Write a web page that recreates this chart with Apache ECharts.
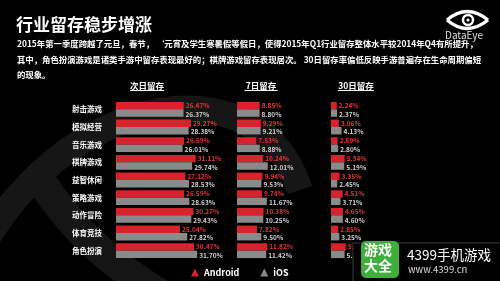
<!DOCTYPE html>
<html><head><meta charset="utf-8">
<script src="https://cdn.jsdelivr.net/npm/echarts@6/dist/echarts.min.js"></script>
<style>html,body{margin:0;padding:0;background:#000;}#c{width:500px;height:281px;}</style>
</head><body><div id="c"></div>
<script>
const categories = ['射击游戏','模拟经营','音乐游戏','棋牌游戏','益智休闲','策略游戏','动作冒险','体育竞技','角色扮演'];
const day1Android = [26.47, 29.27, 26.59, 31.11, 27.12, 26.59, 30.27, 25.04, 30.47];
const day1IOS     = [26.37, 28.38, 26.01, 29.74, 28.53, 28.63, 29.43, 27.82, 31.70];
const day7Android = [8.85, 9.29, 7.53, 10.24, 9.94, 9.74, 10.38, 7.82, 11.82];
const day7IOS     = [8.80, 9.21, 8.88, 12.01, 9.53, 11.67, 10.25, 9.50, 11.42];
const day30Android = [2.24, 3.06, 2.59, 5.34, 3.35, 4.51, 4.65, 2.85, 5.75];
const day30IOS     = [2.37, 4.13, 2.80, 5.19, 2.45, 3.71, 4.60, 3.25, 5.31];
const panelTitles = ['次日留存','7日留存','30日留存'];
const seriesNames = ['Android','iOS'];

const RED = '#d8232c', GREY = '#8a8a8a';
const FONT = '"Noto Sans CJK SC", sans-serif';
const chart = echarts.init(document.getElementById('c'), null, {renderer:'canvas'});

const lefts = [116, 237, 331];
const grids = lefts.map(l => ({left:l, top:100.5, height:159, width:102.4}));
const xAxes = lefts.map((l,i) => ({gridIndex:i, type:'value', min:0, max:40, show:false}));
const yAxes = lefts.map((l,i) => ({
  gridIndex:i, type:'category', data:categories, inverse:true,
  axisLine:{show:false}, axisTick:{show:false}, splitLine:{show:false},
  axisLabel:{show:i===0, color:'#fff', fontSize:7.5, fontFamily:FONT, fontWeight:'bold', margin:14}
}));
const fmt = p => p.value.toFixed(2) + '%';
const data = [[day1Android, day1IOS],[day7Android, day7IOS],[day30Android, day30IOS]];
const series = [];
data.forEach((pair, i) => {
  pair.forEach((vals, j) => {
    series.push({
      name: seriesNames[j], type:'bar', xAxisIndex:i, yAxisIndex:i, data:vals,
      barGap:'0%', barCategoryGap:'16%',
      itemStyle:{color: j===0 ? RED : GREY},
      label:{show:true, position:'right', distance:2, formatter:fmt, fontSize:6.5,
        fontFamily:FONT, fontWeight:'bold', color: j===0 ? '#e8323a' : '#cfcfcf', offset:[0, j===0?0:1]},
      silent:true, animation:false
    });
  });
});

const titleX = [147, 261, 356];
const graphic = [
  {type:'bezierCurve', z:-10, shape:{x1:-40, y1:300, cpx1:20, cpy1:110, cpx2:250, cpy2:40, x2:300, y2:190}, style:{fill:'none', stroke:'#161616', lineWidth:26}},
  {type:'bezierCurve', z:-10, shape:{x1:40, y1:180, cpx1:80, cpy1:240, cpx2:120, cpy2:270, x2:170, y2:300}, style:{fill:'none', stroke:'#151515', lineWidth:30}},
  {type:'text', left:16, top:16, style:{text:'行业留存稳步增涨', fill:'#fff', font:'bold 17px '+FONT}},
  {type:'text', left:17, top:40, style:{text:'2015年第一季度跨越了元旦，春节， ‘元宵及学生寒暑假等假日，使得2015年Q1行业留存整体水平较2014年Q4有所提升，', fill:'#fff', font:'bold 8.4px '+FONT}},
  {type:'text', left:17, top:56, style:{text:'其中，角色扮演游戏是诸类手游中留存表现最好的；棋牌游戏留存表现居次。 30日留存率偏低反映手游普遍存在生命周期偏短', fill:'#fff', font:'bold 8.4px '+FONT}},
  {type:'text', left:17, top:71, style:{text:'的现象。', fill:'#fff', font:'bold 8.4px '+FONT}},
  {type:'bezierCurve', shape:{x1:447, y1:20, cpx1:467, cpy1:3, x2:488, y2:20}, style:{fill:'none', stroke:'#fff', lineWidth:3.2}},
  {type:'bezierCurve', shape:{x1:447, y1:20, cpx1:467, cpy1:37, x2:488, y2:20}, style:{fill:'none', stroke:'#fff', lineWidth:3.2}},
  {type:'circle', shape:{cx:468, cy:20, r:5}, style:{fill:'none', stroke:'#fff', lineWidth:2.5}},
  {type:'circle', shape:{cx:468, cy:20, r:1.6}, style:{fill:'#fff'}},
  {type:'text', left:445, top:30, style:{text:'DataEye', fill:'#ddd', font:'10px '+FONT}},
  {type:'rect', z:50, shape:{x:353, y:243, width:160, height:50}, style:{fill:'#000', stroke:'#3a3a3a', lineWidth:1}},
  {type:'rect', z:51, shape:{x:361, y:241, width:38, height:37, r:5}, style:{fill:'#3fae3a'}},
  {type:'text', z:52, left:364, top:243, style:{text:'游戏', fill:'#fff', font:'bold 14px '+FONT}},
  {type:'text', z:52, left:364, top:259, style:{text:'大全', fill:'#fff', font:'bold 14px '+FONT}},
  {type:'text', z:52, left:407, top:248, style:{text:'4399手机游戏', fill:'#fff', font:'13.5px '+FONT}},
  {type:'text', z:52, left:408, top:265, style:{text:'www.4399.cn', fill:'#ddd', font:'9.5px '+FONT}}
];
panelTitles.forEach((t, i) => {
  graphic.push({type:'text', x:titleX[i], y:86, style:{text:t, fill:'#fff', font:'bold 8.5px '+FONT, align:'center', verticalAlign:'middle'}});
});
const ulW = [34, 33, 36];
panelTitles.forEach((t, i) => {
  graphic.push({type:'line', shape:{x1:titleX[i]-ulW[i]/2, y1:90.5, x2:titleX[i]+ulW[i]/2, y2:90.5}, style:{stroke:'#fff', lineWidth:1}});
});

chart.setOption({
  backgroundColor:'#000',
  animation:false,
  grid: grids, xAxis: xAxes, yAxis: yAxes, series: series,
  legend:{data:[{name:'Android', icon:'triangle', itemStyle:{color:RED}},{name:'iOS', icon:'triangle', itemStyle:{color:GREY}}],
    left:186, top:263, itemWidth:8, itemHeight:8, itemGap:21,
    textStyle:{color:'#fff', fontSize:9, fontWeight:'bold', fontFamily:FONT}},
  graphic: graphic
});
</script></body></html>
